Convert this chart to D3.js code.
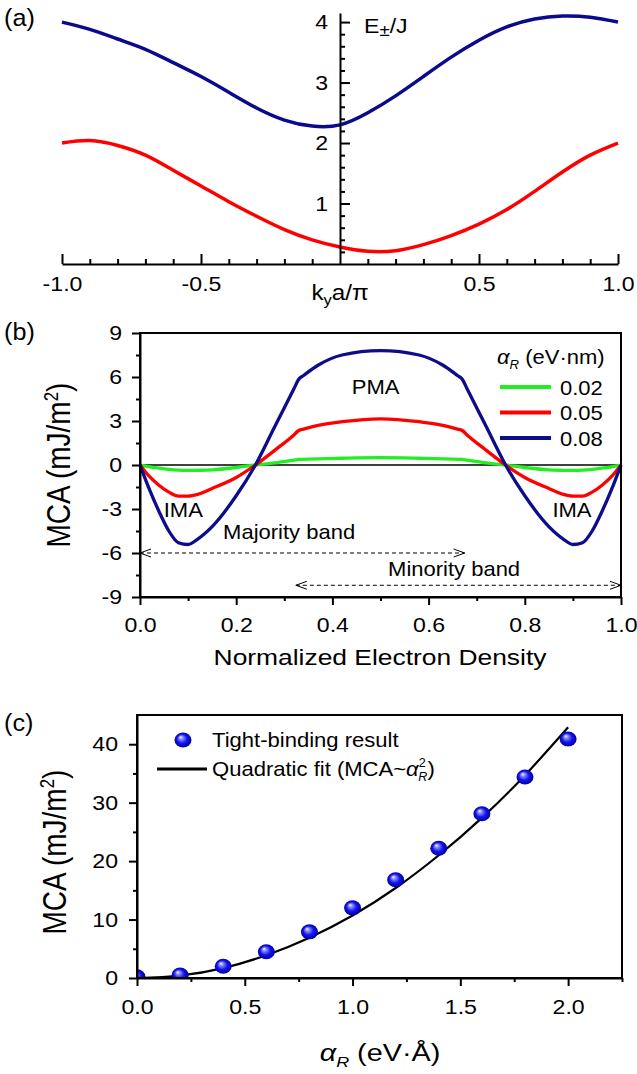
<!DOCTYPE html>
<html>
<head>
<meta charset="utf-8">
<script src="https://cdn.jsdelivr.net/npm/d3@7"></script>
<style>
  body { margin: 0; background: #fff; }
  svg { display: block; font-family: "Liberation Sans", Arial, sans-serif; }
</style>
</head>
<body>
<div id="chart"></div>
<script>
// (a) band dispersion
const kValues = [-1.0, -0.9, -0.8, -0.7, -0.6, -0.5, -0.4, -0.3, -0.2, -0.1, 0.0, 0.1, 0.2, 0.3, 0.4, 0.5, 0.6, 0.7, 0.8, 0.9, 1.0];
const upperBand = [4.00, 3.88, 3.72, 3.55, 3.33, 3.10, 2.84, 2.58, 2.38, 2.28, 2.30, 2.50, 2.78, 3.10, 3.42, 3.70, 3.92, 4.05, 4.10, 4.08, 4.00];
const lowerBand = [2.00, 2.04, 1.96, 1.80, 1.55, 1.29, 1.03, 0.79, 0.57, 0.40, 0.28, 0.21, 0.22, 0.32, 0.47, 0.66, 0.90, 1.20, 1.52, 1.80, 2.00];

// (b) MCA vs electron density
const densityValues = [0, 0.02, 0.04, 0.06, 0.08, 0.10, 0.12, 0.15, 0.20, 0.24, 0.28, 0.32, 0.33, 0.34, 0.37, 0.42, 0.50,
  0.58, 0.63, 0.66, 0.67, 0.68, 0.72, 0.76, 0.80, 0.85, 0.88, 0.90, 0.92, 0.94, 0.96, 0.98, 1.00];
const mca002 = [0, -0.12, -0.22, -0.30, -0.35, -0.37, -0.36, -0.33, -0.17, 0, 0.14, 0.33, 0.38, 0.39, 0.42, 0.46, 0.50,
  0.46, 0.42, 0.39, 0.38, 0.33, 0.14, 0, -0.17, -0.33, -0.36, -0.37, -0.35, -0.30, -0.22, -0.12, 0];
const mca005 = [0, -0.8, -1.4, -1.85, -2.12, -2.12, -2.0, -1.6, -0.85, 0, 1.0, 2.05, 2.35, 2.45, 2.7, 2.95, 3.15,
  2.95, 2.7, 2.45, 2.35, 2.05, 1.0, 0, -0.85, -1.6, -2.0, -2.12, -2.12, -1.85, -1.4, -0.8, 0];
const mca008 = [0, -1.7, -3.2, -4.5, -5.3, -5.42, -5.05, -4.2, -2.1, 0, 2.6, 5.2, 5.85, 6.1, 6.8, 7.5, 7.8,
  7.5, 6.8, 6.1, 5.85, 5.2, 2.6, 0, -2.1, -4.2, -5.05, -5.42, -5.3, -4.5, -3.2, -1.7, 0];
const rashbaLabels = ["0.02", "0.05", "0.08"];

// (c) MCA vs Rashba strength
const alphaValues = [0, 0.2, 0.4, 0.6, 0.8, 1.0, 1.2, 1.4, 1.6, 1.8, 2.0];
const tightBinding = [0.2, 0.5, 2.0, 4.5, 7.9, 12.0, 16.8, 22.2, 28.1, 34.4, 40.9];
const quadraticFit = [0, 0.43, 1.7, 3.9, 6.9, 10.7, 15.4, 21.0, 27.4, 34.7, 42.9];

const width = 637;
const height = 1074;
const SX = 1.1;

const fmt1 = (d) => d3.format(".1f")(d).replace("−", "-");
const fmt0 = (d) => d3.format("d")(d).replace("−", "-");

const svg = d3.select("#chart").append("svg")
  .attr("width", width)
  .attr("height", height)
  .attr("viewBox", [0, 0, width, height]);

const defs = svg.append("defs");
const ball = defs.append("radialGradient").attr("id", "ball")
  .attr("cx", "50%").attr("cy", "50%").attr("r", "50%").attr("fx", "35%").attr("fy", "30%");
[[0, "#ffffff"], [0.22, "#9090ff"], [0.6, "#1414f0"], [1, "#0000a0"]].forEach(([o, c]) =>
  ball.append("stop").attr("offset", o).attr("stop-color", c));

function label(g, x, y, parts, { size = 20, anchor = "start", sx = SX, rotate = 0 } = {}) {
  const t = g.append("text")
    .attr("transform", `translate(${x},${y}) scale(${sx},1)` + (rotate ? ` rotate(${rotate})` : ""))
    .attr("text-anchor", anchor)
    .attr("font-size", size)
    .attr("fill", "#000");
  (Array.isArray(parts) ? parts : [{ text: parts }]).forEach((p) => {
    const span = t.append("tspan").text(p.text);
    if (p.italic) span.attr("font-style", "italic");
    if (p.size) span.attr("font-size", p.size);
    if (p.dy) span.attr("dy", p.dy);
    if (p.dx) span.attr("dx", p.dx);
  });
  return t;
}

function styleAxis(axisG, { left = false, gap = 0 } = {}) {
  axisG.attr("font-size", 21).attr("font-family", null);
  axisG.selectAll("line").attr("stroke", "#000").attr("stroke-width", 2);
  axisG.select(".domain").attr("stroke", "#000").attr("stroke-width", 2);
  const texts = axisG.selectAll(".tick text").attr("fill", "#000").attr("transform", `scale(${SX},1)`);
  if (left) texts.attr("x", -gap / SX);
}

function minorAxis(g, axis, values, size) {
  g.call(axis.tickValues(values).tickSizeInner(size).tickSizeOuter(0).tickFormat(() => ""))
    .call((a) => a.select(".domain").remove())
    .call((a) => a.selectAll("line").attr("stroke", "#000").attr("stroke-width", 2));
}

// ---------- panel (a) ----------
{
  const x = d3.scaleLinear().domain([-1, 1]).range([62, 618]);
  const y = d3.scaleLinear().domain([0, 4.15]).range([264, 13]);
  const g = svg.append("g");

  const line = d3.line().x((d) => x(d[0])).y((d) => y(d[1])).curve(d3.curveNatural);
  [[upperBand, "#0a0a8c"], [lowerBand, "#ff0000"]].forEach(([vals, color]) => {
    g.append("path")
      .datum(kValues.map((k, i) => [k, vals[i]]))
      .attr("fill", "none").attr("stroke", color).attr("stroke-width", 3.5)
      .attr("d", line);
  });

  const xAxis = g.append("g").attr("transform", `translate(0,${y(0)})`);
  xAxis.call(d3.axisBottom(x).tickValues([-1, -0.5, 0.5, 1]).tickSizeInner(-10).tickSizeOuter(0)
    .tickPadding(12).tickFormat(fmt1));
  styleAxis(xAxis);
  minorAxis(g.append("g").attr("transform", `translate(0,${y(0)})`), d3.axisBottom(x),
    d3.range(-9, 10).filter((v) => v % 5 !== 0).map((v) => v / 10), -5);

  const yAxis = g.append("g").attr("transform", `translate(${x(0)},0)`);
  yAxis.call(d3.axisLeft(y).tickValues([1, 2, 3, 4]).tickSizeInner(-10).tickSizeOuter(0).tickFormat(fmt0));
  styleAxis(yAxis, { left: true, gap: 12 });
  minorAxis(g.append("g").attr("transform", `translate(${x(0)},0)`), d3.axisLeft(y),
    d3.range(1, 20).filter((v) => v % 5 !== 0).map((v) => v / 5), -5);

  label(g, 364, 33, [{ text: "E" }, { text: "±", size: 17, dy: 3 }, { text: "/J", dy: -3 }], { size: 21 });
  label(g, x(0), 300, [{ text: "k" }, { text: "y", size: 15, dy: 5 }, { text: "a/π", dy: -5 }], { size: 22, anchor: "middle" });
  label(g, 4, 26, "(a)", { size: 24, sx: 1.05 });
}

// ---------- panel (b) ----------
{
  const x = d3.scaleLinear().domain([0, 1]).range([140, 621]);
  const y = d3.scaleLinear().domain([-9, 9]).range([597, 333]);
  const g = svg.append("g");

  g.append("line").attr("x1", x(0)).attr("x2", x(1)).attr("y1", y(0)).attr("y2", y(0))
    .attr("stroke", "#000").attr("stroke-width", 1.5);

  const line = d3.line().x((d) => x(d[0])).y((d) => y(d[1])).curve(d3.curveMonotoneX);
  const seriesB = [[mca002, "#22ee22"], [mca005, "#ff0000"], [mca008, "#0d0d8c"]];
  seriesB.forEach(([vals, color]) => {
    g.append("path")
      .datum(densityValues.map((n, i) => [n, vals[i]]))
      .attr("fill", "none").attr("stroke", color).attr("stroke-width", 3.3)
      .attr("stroke-linejoin", "round")
      .attr("d", line);
  });

  g.append("rect").attr("x", x(0)).attr("y", y(9)).attr("width", x(1) - x(0)).attr("height", y(-9) - y(9))
    .attr("fill", "none").attr("stroke", "#000").attr("stroke-width", 2);

  const xAxis = g.append("g").attr("transform", `translate(0,${y(-9)})`);
  xAxis.call(d3.axisBottom(x).tickValues([0, 0.2, 0.4, 0.6, 0.8, 1]).tickSizeInner(8).tickSizeOuter(0)
    .tickPadding(12).tickFormat(fmt1));
  styleAxis(xAxis);
  minorAxis(g.append("g").attr("transform", `translate(0,${y(-9)})`), d3.axisBottom(x), [0.1, 0.3, 0.5, 0.7, 0.9], 4);

  const yAxis = g.append("g").attr("transform", `translate(${x(0)},0)`);
  yAxis.call(d3.axisLeft(y).tickValues([-9, -6, -3, 0, 3, 6, 9]).tickSizeInner(8).tickSizeOuter(0).tickFormat(fmt0));
  styleAxis(yAxis, { left: true, gap: 18 });
  minorAxis(g.append("g").attr("transform", `translate(${x(0)},0)`), d3.axisLeft(y), [-7.5, -4.5, -1.5, 1.5, 4.5, 7.5], 4);

  // dashed double arrows
  const arrow = (x0, x1, v) => {
    const yy = y(v);
    g.append("line").attr("x1", x(x0)).attr("x2", x(x1)).attr("y1", yy).attr("y2", yy)
      .attr("stroke", "#000").attr("stroke-width", 1).attr("stroke-dasharray", "4,3");
    g.append("path").attr("d", `M${x(x0) + 11},${yy - 4}L${x(x0)},${yy}L${x(x0) + 11},${yy + 4}`)
      .attr("fill", "none").attr("stroke", "#000").attr("stroke-width", 1);
    g.append("path").attr("d", `M${x(x1) - 11},${yy - 4}L${x(x1)},${yy}L${x(x1) - 11},${yy + 4}`)
      .attr("fill", "none").attr("stroke", "#000").attr("stroke-width", 1);
  };
  arrow(0, 0.675, -6);
  arrow(0.324, 1, -8.2);

  label(g, x(0.49), y(5.3) + 7, "PMA", { size: 20, anchor: "middle" });
  label(g, x(0.09), y(-3.07) + 7, "IMA", { size: 20, anchor: "middle" });
  label(g, x(0.898), y(-3.07) + 7, "IMA", { size: 20, anchor: "middle" });
  label(g, x(0.31), y(-4.6) + 7, "Majority band", { size: 20, anchor: "middle" });
  label(g, x(0.653), y(-7.1) + 7, "Minority band", { size: 20, anchor: "middle" });

  // legend
  label(g, 497, 364, [{ text: "α", italic: true }, { text: "R", italic: true, size: 12, dy: 5 }, { text: " (eV·nm)", dy: -5 }], { size: 20 });
  seriesB.forEach(([, color], i) => {
    const ly = 387 + i * 25.5;
    g.append("line").attr("x1", 500).attr("x2", 551).attr("y1", ly).attr("y2", ly)
      .attr("stroke", color).attr("stroke-width", 4);
    label(g, 560, ly + 7.5, rashbaLabels[i], { size: 20 });
  });

  label(g, 380, 665, "Normalized Electron Density", { size: 22, anchor: "middle", sx: 1.2 });
  label(g, 70, 465, [{ text: "MCA (mJ/m" }, { text: "2", size: 17, dy: -10 }, { text: ")", dy: 10 }],
    { size: 28, anchor: "middle", sx: 1.2, rotate: -90 });
  label(g, 4, 340, "(b)", { size: 24, sx: 1.05 });
}

// ---------- panel (c) ----------
{
  const x = d3.scaleLinear().domain([0, 2.25]).range([137, 622]);
  const y = d3.scaleLinear().domain([0, 45]).range([978, 715]);
  const g = svg.append("g");

  defs.append("clipPath").attr("id", "clip-c").append("rect")
    .attr("x", x(0)).attr("y", y(45)).attr("width", x(2.25) - x(0)).attr("height", y(0) - y(45));

  const line = d3.line().x((d) => x(d[0])).y((d) => y(d[1])).curve(d3.curveNatural);
  g.append("path")
    .datum(alphaValues.map((a, i) => [a, quadraticFit[i]]))
    .attr("fill", "none").attr("stroke", "#000").attr("stroke-width", 2.2)
    .attr("d", line);

  g.append("g").attr("clip-path", "url(#clip-c)")
    .selectAll("ellipse")
    .data(alphaValues.map((a, i) => [a, tightBinding[i]]))
    .join("ellipse")
    .attr("cx", (d) => x(d[0])).attr("cy", (d) => y(d[1]))
    .attr("rx", 8.5).attr("ry", 7.5)
    .attr("fill", "url(#ball)");

  g.append("rect").attr("x", x(0)).attr("y", y(45)).attr("width", x(2.25) - x(0)).attr("height", y(0) - y(45))
    .attr("fill", "none").attr("stroke", "#000").attr("stroke-width", 2);

  const xAxis = g.append("g").attr("transform", `translate(0,${y(0)})`);
  xAxis.call(d3.axisBottom(x).tickValues([0, 0.5, 1, 1.5, 2]).tickSizeInner(8).tickSizeOuter(0)
    .tickPadding(13).tickFormat(fmt1));
  styleAxis(xAxis);
  minorAxis(g.append("g").attr("transform", `translate(0,${y(0)})`), d3.axisBottom(x), [0.25, 0.75, 1.25, 1.75, 2.25], 4);

  const yAxis = g.append("g").attr("transform", `translate(${x(0)},0)`);
  yAxis.call(d3.axisLeft(y).tickValues([0, 10, 20, 30, 40]).tickSizeInner(8).tickSizeOuter(0).tickFormat(fmt0));
  styleAxis(yAxis, { left: true, gap: 19 });
  minorAxis(g.append("g").attr("transform", `translate(${x(0)},0)`), d3.axisLeft(y), [5, 15, 25, 35], 4);

  // legend
  g.append("ellipse").attr("cx", 183).attr("cy", 740).attr("rx", 8.5).attr("ry", 7.5).attr("fill", "url(#ball)");
  label(g, 212, 747, "Tight-binding result", { size: 21, sx: 1.05 });
  g.append("line").attr("x1", 157).attr("x2", 207).attr("y1", 769).attr("y2", 769)
    .attr("stroke", "#000").attr("stroke-width", 2.8);
  label(g, 212, 776, [
    { text: "Quadratic fit (MCA~" },
    { text: "α", italic: true },
    { text: "2", size: 12, dy: -9 },
    { text: "R", italic: true, size: 12, dx: -7, dy: 14 },
    { text: ")", dy: -5 },
  ], { size: 21, sx: 1.05 });

  label(g, 380, 1061, [{ text: "α", italic: true }, { text: "R", italic: true, size: 15, dy: 6 }, { text: " (eV·Å)", dy: -6 }],
    { size: 24, anchor: "middle", sx: 1.2 });
  label(g, 66, 852, [{ text: "MCA (mJ/m" }, { text: "2", size: 17, dy: -10 }, { text: ")", dy: 10 }],
    { size: 28, anchor: "middle", sx: 1.2, rotate: -90 });
  label(g, 4, 731, "(c)", { size: 24, sx: 1.05 });
}
</script>
</body>
</html>
